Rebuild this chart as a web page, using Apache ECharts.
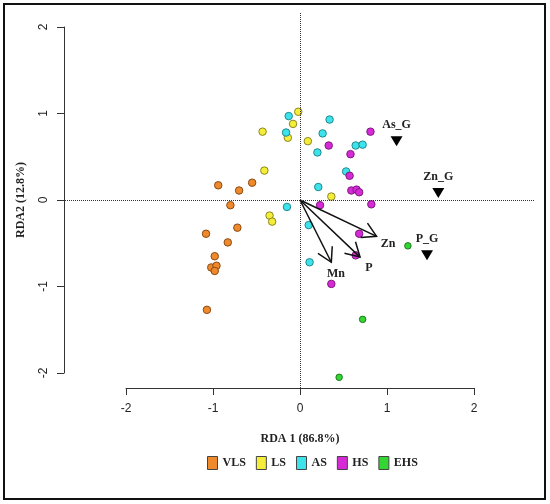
<!DOCTYPE html>
<html>
<head>
<meta charset="utf-8" />
<title>RDA biplot</title>
<style>
  html, body { margin: 0; padding: 0; background: #fff; }
  #rda { width: 550px; height: 504px; }
</style>
</head>
<body>
<div id="rda"></div>
<script src="https://cdn.jsdelivr.net/npm/echarts@6/dist/echarts.min.js"></script>
<script>
// sample scores (RDA1, RDA2) per group
const groupNames = ['VLS', 'LS', 'AS', 'HS', 'EHS'];
const vlsPts = [[-0.94,0.17],[-0.55,0.20],[-0.70,0.11],[-0.80,-0.06],[-0.72,-0.32],[-1.08,-0.39],
                [-0.83,-0.49],[-0.98,-0.65],[-1.02,-0.78],[-0.96,-0.76],[-0.98,-0.82],[-1.07,-1.27]];
const lsPts = [[-0.02,1.02],[-0.08,0.88],[-0.43,0.79],[-0.14,0.72],[0.09,0.68],[-0.41,0.34],
               [0.36,0.04],[-0.35,-0.18],[-0.32,-0.25]];
const asPts = [[-0.13,0.97],[-0.16,0.78],[0.34,0.93],[0.26,0.77],[0.20,0.55],[0.64,0.63],
               [0.72,0.64],[0.53,0.33],[0.21,0.15],[-0.15,-0.08],[0.10,-0.29],[0.11,-0.72]];
const hsPts = [[0.81,0.79],[0.33,0.63],[0.58,0.53],[0.57,0.28],[0.59,0.11],[0.65,0.12],
               [0.68,0.09],[0.23,-0.06],[0.82,-0.05],[0.68,-0.39],[0.64,-0.64],[0.36,-0.97]];
const ehsPts = [[1.24,-0.53],[0.72,-1.38],[0.45,-2.05]];

// explanatory variables (arrows)
const envNames = ['Zn', 'P', 'Mn'];
const envScores = [[0.88,-0.42],[0.69,-0.66],[0.36,-0.72]];

// supplementary variables (triangles)
const suppNames = ['As_G', 'Zn_G', 'P_G'];
const suppScores = [[1.11,0.68],[1.59,0.08],[1.46,-0.64]];

const tickValues = [-2, -1, 0, 1, 2];
const xTitle = 'RDA 1 (86.8%)';
const yTitle = 'RDA2 (12.8%)';

const groupPts = [vlsPts, lsPts, asPts, hsPts, ehsPts];
const fills = ['#ee8a2c', '#f4ee3a', '#3ee2ea', '#d72ad7', '#33d633'];
const borders = ['#8a4a14', '#8c8620', '#1f8a90', '#7e1a7e', '#1c7a1c'];

const chart = echarts.init(document.getElementById('rda'));
const serif = '"Liberation Serif", "DejaVu Serif", serif';
const sans = '"Liberation Sans", Arial, sans-serif';

const scatterSeries = groupNames.map(function (nm, i) {
  return {
    name: nm,
    type: 'scatter',
    xAxisIndex: 0, yAxisIndex: 0,
    data: groupPts[i],
    symbol: 'circle',
    symbolSize: i === 4 ? 6.5 : 7.5,
    itemStyle: { color: fills[i], borderColor: borders[i], borderWidth: 1, opacity: 1 },
    z: 3
  };
});

// arrows with open heads, drawn through the grid coordinates
function arrowItem(params, api) {
  const p0 = api.coord([0, 0]);
  const p1 = api.coord([api.value(0), api.value(1)]);
  const ang = Math.atan2(p1[1] - p0[1], p1[0] - p0[0]);
  const len = 16, spread = Math.PI / 6;
  const h1 = [p1[0] - len * Math.cos(ang - spread), p1[1] - len * Math.sin(ang - spread)];
  const h2 = [p1[0] - len * Math.cos(ang + spread), p1[1] - len * Math.sin(ang + spread)];
  const lp = api.coord([api.value(0) * 1.15, api.value(1) * 1.15]);
  const st = { stroke: '#111', lineWidth: 1.5, fill: null };
  return {
    type: 'group',
    children: [
      { type: 'line', shape: { x1: p0[0], y1: p0[1], x2: p1[0], y2: p1[1] }, style: st },
      { type: 'polyline', shape: { points: [h1, p1, h2] }, style: st },
      { type: 'text', x: lp[0], y: lp[1] + 2,
        style: { text: envNames[params.dataIndex], font: 'bold 12px ' + serif,
                 fill: '#222', align: 'center', verticalAlign: 'middle' } }
    ]
  };
}

const option = {
  animation: false,
  backgroundColor: '#fff',
  grid: [
    { left: 65, right: 16, top: 13, bottom: 116 },
    { left: 126, width: 348, top: 387, height: 1 },
    { left: 64, width: 1, top: 27, height: 346 }
  ],
  xAxis: [
    { gridIndex: 0, type: 'value', min: -235 / 87, max: 234 / 87, show: false },
    { gridIndex: 1, type: 'value', min: -2, max: 2, interval: 1, position: 'bottom',
      axisLine: { show: true, onZero: false, lineStyle: { color: '#333', width: 1 } },
      axisTick: { show: true, length: 7, lineStyle: { color: '#333' } },
      axisLabel: { margin: 15, fontFamily: sans, fontSize: 12, color: '#222',
                   formatter: function (v) { return tickValues.indexOf(v) >= 0 ? String(v) : ''; } },
      splitLine: { show: false },
      name: xTitle, nameLocation: 'middle', nameGap: 45,
      nameTextStyle: { fontFamily: serif, fontWeight: 'bold', fontSize: 12, color: '#222' } },
    { gridIndex: 2, type: 'value', show: false }
  ],
  yAxis: [
    { gridIndex: 0, type: 'value', min: -188 / 86.5, max: 187 / 86.5, show: false },
    { gridIndex: 1, type: 'value', show: false },
    { gridIndex: 2, type: 'value', min: -2, max: 2, interval: 1, position: 'left',
      axisLine: { show: true, onZero: false, lineStyle: { color: '#333', width: 1 } },
      axisTick: { show: true, length: 7, lineStyle: { color: '#333' } },
      axisLabel: { margin: 14, rotate: 90, fontFamily: sans, fontSize: 12, color: '#222' },
      splitLine: { show: false },
      name: yTitle, nameLocation: 'middle', nameGap: 37, nameRotate: 90,
      nameTextStyle: { fontFamily: serif, fontWeight: 'bold', fontSize: 12, color: '#222' } }
  ],
  legend: {
    data: groupNames,
    left: 202, top: 451,
    icon: 'rect',
    itemWidth: 10, itemHeight: 13, itemGap: 10,
    itemStyle: { borderColor: '#444', borderWidth: 1 },
    textStyle: { fontFamily: serif, fontWeight: 'bold', fontSize: 12, color: '#222' }
  },
  graphic: [
    { type: 'rect', shape: { x: 4, y: 4, width: 541, height: 495 },
      style: { fill: null, stroke: '#111', lineWidth: 2 }, z: 10 }
  ],
  series: scatterSeries.concat([
    {
      name: 'zero', type: 'line', xAxisIndex: 0, yAxisIndex: 0, data: [],
      markLine: {
        silent: true, symbol: 'none', label: { show: false },
        lineStyle: { type: 'dotted', color: '#333', width: 1 },
        data: [{ xAxis: 0 }, { yAxis: 0 }]
      }
    },
    {
      name: 'env', type: 'custom', xAxisIndex: 0, yAxisIndex: 0,
      data: envScores, renderItem: arrowItem, z: 4
    },
    {
      name: 'supp', type: 'scatter', xAxisIndex: 0, yAxisIndex: 0,
      data: suppScores.map(function (p, i) { return { name: suppNames[i], value: p }; }),
      symbol: 'triangle', symbolRotate: 180, symbolSize: [12, 10],
      itemStyle: { color: '#000', opacity: 1 },
      label: { show: true, position: 'top', distance: 5, formatter: '{b}',
               fontFamily: serif, fontWeight: 'bold', fontSize: 12, color: '#222' },
      z: 4
    }
  ])
};

chart.setOption(option);
window.onresize = function () { chart.resize(); };
</script>
</body>
</html>
